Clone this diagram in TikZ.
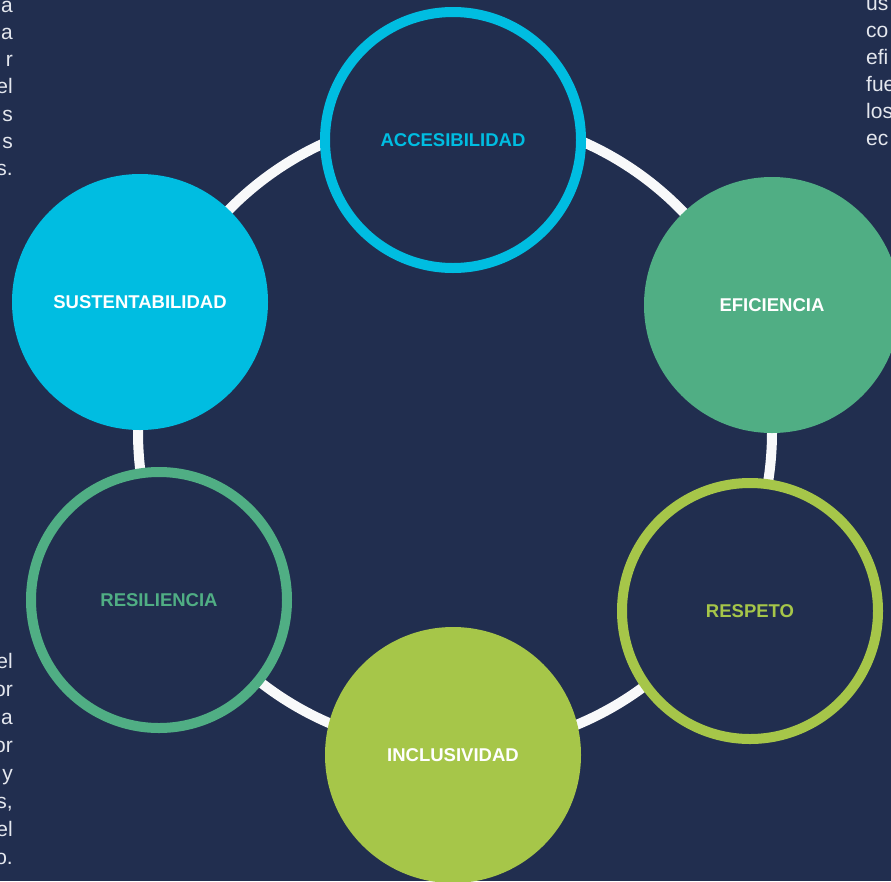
\documentclass[tikz,border=0pt]{standalone}
\usepackage{fontspec}
\setmainfont{Liberation Sans}
\definecolor{navy}{HTML}{212E4F}
\definecolor{cyanc}{HTML}{00BDE1}
\definecolor{greenc}{HTML}{50AE84}
\definecolor{limec}{HTML}{A6C649}
\definecolor{paper}{HTML}{E4E7EE}
\begin{document}
\begin{tikzpicture}[x=1pt,y=-1pt,
  disc/.style={circle, minimum size=256pt, inner sep=0pt,
    font=\bfseries\fontsize{18.5}{20}\selectfont},
  blob/.style={disc, fill=#1, text=white},
  hoop/.style={disc, draw=#1, line width=10pt, fill=navy, text=#1},
  side/.style={text=paper, inner sep=0pt, font=\fontsize{21}{24}\selectfont}]
\fill[navy] (0,0) rectangle (891,881);
\useasboundingbox (0,0) rectangle (891,881);
\begin{scope}
\clip (0,0) rectangle (891,881);
% ring behind the six values
\coordinate (hub) at (455,432);
\draw[white!97!navy, line width=10pt] (hub) circle (317pt);
\node[hoop=cyanc]  (acc)  at (453,140) {ACCESIBILIDAD};
\node[blob=greenc] (efi)  at (772,305) {EFICIENCIA};
\node[hoop=limec]  (resp) at (750,611) {RESPETO};
\node[blob=limec]  (incl) at (453,755) {INCLUSIVIDAD};
\node[hoop=greenc] (resi) at (159,600) {RESILIENCIA};
\node[blob=cyanc]  (sust) at (140,302) {SUSTENTABILIDAD};
% text cut off at the edges
\foreach \t [count=\i] in {a,a,r,el,s,s,s.}
  \node[side, anchor=base east] (tl\i) at (13,{12+27.3*(\i-1)}) {\t};
\foreach \t [count=\i] in {us,co,efi,fue,los,ec}
  \node[side, anchor=base west] (tr\i) at (866,{10+27*(\i-1)}) {\t};
\foreach \t [count=\i] in {el,or,a,or,y,s{,},el,o.}
  \node[side, anchor=base east] (bl\i) at (13,{668+28.1*(\i-1)}) {\t};
\end{scope}
\end{tikzpicture}
\end{document}
